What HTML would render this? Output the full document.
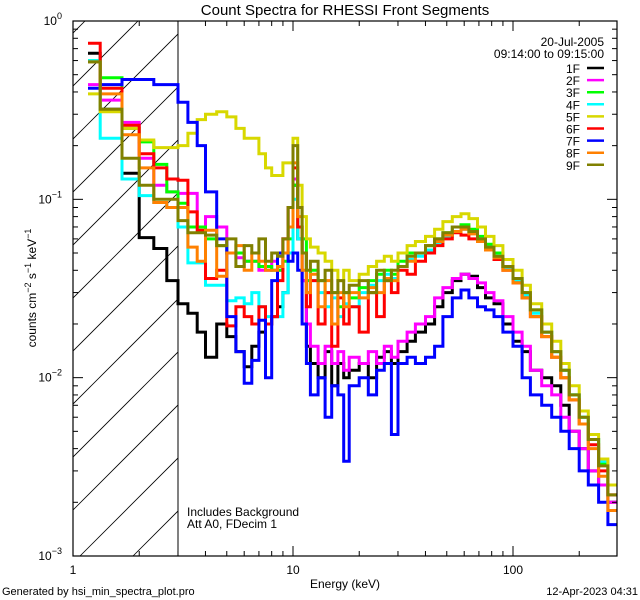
<!DOCTYPE html>
<html><head><meta charset="utf-8"><style>
html,body{margin:0;padding:0;background:#fff;}
svg{display:block;font-family:"Liberation Sans",sans-serif;}
</style></head><body>
<svg id="chart" width="640" height="600" viewBox="0 0 640 600">
<defs><clipPath id="plotclip"><rect x="73" y="21" width="544" height="535"/></clipPath></defs>
<rect x="0" y="0" width="640" height="600" fill="#fff"/>
<text x="345" y="15" font-size="15" text-anchor="middle">Count Spectra for RHESSI Front Segments</text>
<g id="hatch" clip-path="url(#plotclip)"></g>
<line x1="178" y1="21" x2="178" y2="556" stroke="#000" stroke-width="1"/>
<g id="series" clip-path="url(#plotclip)"></g>
<rect x="73" y="21" width="544" height="535" fill="none" stroke="#000" stroke-width="1.2"/>
<g id="axes"></g>
<text transform="translate(36,288) rotate(-90)" font-size="12" text-anchor="middle">counts cm<tspan dy="-5" font-size="9">−2</tspan><tspan dy="5"> s</tspan><tspan dy="-5" font-size="9">−1</tspan><tspan dy="5"> keV</tspan><tspan dy="-5" font-size="9">−1</tspan></text>
<text x="345" y="588" font-size="12" text-anchor="middle">Energy (keV)</text>
<text x="2" y="595" font-size="11">Generated by hsi_min_spectra_plot.pro</text>
<text x="638" y="595" font-size="11" text-anchor="end">12-Apr-2023 04:31</text>
<text x="187" y="516" font-size="12">Includes Background</text>
<text x="187" y="528" font-size="12">Att A0, FDecim 1</text>
<text x="604" y="46" font-size="12" text-anchor="end">20-Jul-2005</text>
<text x="604" y="58" font-size="12" text-anchor="end">09:14:00 to 09:15:00</text>
<g id="legend"></g>
</svg>
<script>
const energyEdges=[1.17,1.33,1.67,2.0,2.33,2.67,3.0,3.33,3.67,4.0,4.5,5.0,5.5,6.0,6.5,7.0,7.5,8.0,8.5,9.0,9.5,10.0,10.5,11.0,11.5,12,13,14,15,16,17,18,20,22,24,26,28,30,33,36,40,44,48,53,58,63,69,75,82,90,100,110,120,135,150,165,180,200,220,245,270,297];
const seriesNames=["1F","2F","3F","4F","5F","6F","7F","8F","9F"];
const s1F=[0.66,0.32,0.14,0.061,0.053,0.035,0.026,0.023,0.018,0.013,0.02,0.017,0.014,0.0115,0.015,0.018,0.02,0.022,0.025,0.03,0.05,0.12,0.06,0.035,0.015,0.012,0.01,0.014,0.009,0.012,0.01,0.011,0.012,0.01,0.013,0.014,0.012,0.014,0.016,0.018,0.02,0.025,0.03,0.035,0.038,0.037,0.032,0.028,0.026,0.02,0.016,0.014,0.011,0.01,0.009,0.007,0.005,0.004,0.003,0.0025,0.002];
const s2F=[0.44,0.36,0.27,0.17,0.12,0.11,0.108,0.108,0.07,0.08,0.07,0.05,0.047,0.045,0.045,0.04,0.04,0.045,0.04,0.06,0.09,0.13,0.07,0.035,0.02,0.015,0.012,0.015,0.012,0.014,0.011,0.013,0.012,0.014,0.012,0.015,0.013,0.016,0.018,0.02,0.022,0.028,0.032,0.036,0.038,0.036,0.034,0.03,0.027,0.022,0.018,0.015,0.011,0.009,0.008,0.006,0.005,0.004,0.003,0.0025,0.002];
const s3F=[0.6,0.48,0.25,0.21,0.157,0.11,0.095,0.07,0.07,0.06,0.055,0.05,0.05,0.045,0.045,0.042,0.042,0.04,0.04,0.045,0.06,0.12,0.07,0.06,0.035,0.04,0.035,0.03,0.03,0.025,0.03,0.028,0.032,0.035,0.038,0.04,0.038,0.045,0.05,0.05,0.055,0.06,0.065,0.07,0.072,0.068,0.062,0.056,0.05,0.042,0.036,0.03,0.024,0.018,0.014,0.011,0.008,0.006,0.0045,0.0033,0.0025];
const s4F=[0.6,0.22,0.13,0.105,0.096,0.09,0.07,0.044,0.044,0.033,0.033,0.027,0.028,0.026,0.03,0.025,0.022,0.022,0.022,0.03,0.05,0.1,0.06,0.05,0.03,0.035,0.03,0.025,0.028,0.022,0.026,0.025,0.03,0.033,0.035,0.038,0.036,0.042,0.046,0.048,0.052,0.057,0.062,0.066,0.068,0.065,0.06,0.054,0.048,0.041,0.035,0.029,0.023,0.018,0.014,0.011,0.008,0.006,0.0045,0.0034,0.0025];
const s5F=[0.39,0.31,0.25,0.215,0.195,0.195,0.2,0.235,0.28,0.3,0.31,0.29,0.25,0.22,0.22,0.18,0.15,0.136,0.136,0.16,0.16,0.22,0.12,0.08,0.06,0.054,0.05,0.045,0.04,0.035,0.04,0.035,0.038,0.042,0.045,0.048,0.045,0.05,0.055,0.058,0.062,0.068,0.075,0.08,0.083,0.078,0.07,0.062,0.055,0.046,0.04,0.033,0.026,0.02,0.016,0.012,0.009,0.0065,0.0048,0.0035,0.0025];
const s6F=[0.75,0.42,0.26,0.18,0.15,0.13,0.128,0.085,0.067,0.036,0.04,0.0195,0.025,0.022,0.02,0.025,0.02,0.022,0.035,0.06,0.09,0.15,0.07,0.05,0.025,0.035,0.02,0.03,0.015,0.028,0.02,0.025,0.018,0.03,0.022,0.035,0.03,0.04,0.038,0.045,0.05,0.055,0.06,0.065,0.063,0.06,0.058,0.052,0.046,0.04,0.034,0.028,0.022,0.017,0.013,0.01,0.0075,0.0055,0.0042,0.003,0.0022];
const s7F=[0.42,0.44,0.47,0.47,0.44,0.44,0.35,0.27,0.2,0.11,0.06,0.022,0.014,0.0093,0.0125,0.021,0.01,0.035,0.05,0.05,0.045,0.05,0.04,0.02,0.012,0.008,0.01,0.006,0.009,0.008,0.0034,0.009,0.01,0.008,0.011,0.012,0.0048,0.012,0.013,0.012,0.013,0.015,0.022,0.028,0.031,0.028,0.025,0.024,0.022,0.018,0.015,0.01,0.008,0.007,0.006,0.005,0.004,0.003,0.0025,0.002,0.0015];
const s8F=[0.59,0.39,0.23,0.15,0.096,0.09,0.09,0.054,0.045,0.067,0.037,0.05,0.055,0.04,0.05,0.045,0.04,0.04,0.042,0.05,0.07,0.16,0.08,0.04,0.03,0.038,0.025,0.035,0.02,0.03,0.025,0.03,0.028,0.032,0.03,0.036,0.035,0.042,0.045,0.05,0.055,0.058,0.063,0.066,0.068,0.064,0.058,0.052,0.047,0.04,0.034,0.028,0.022,0.017,0.013,0.01,0.0075,0.0055,0.004,0.0028,0.0018];
const s9F=[0.59,0.32,0.17,0.12,0.1,0.1,0.076,0.065,0.065,0.063,0.055,0.06,0.042,0.055,0.05,0.06,0.045,0.05,0.048,0.06,0.09,0.2,0.09,0.05,0.04,0.045,0.035,0.04,0.03,0.035,0.03,0.033,0.035,0.03,0.04,0.035,0.04,0.042,0.048,0.05,0.055,0.06,0.065,0.07,0.07,0.066,0.06,0.054,0.048,0.042,0.036,0.03,0.024,0.018,0.014,0.011,0.008,0.006,0.0045,0.0032,0.0022];
const xTickLabels=["1","10","100"];
const yTickLabels=["0","−1","−2","−3"];

const NS="http://www.w3.org/2000/svg";
const X0=73,X1=617,Y0=21,Y1=556;
const xDec=220, yDec=178.33;
function xScale(e){return X0+Math.log10(e)*xDec;}
function yScale(v){return Y0-Math.log10(v)*yDec;}
function mk(tag,attrs,parent){const el=document.createElementNS(NS,tag);for(const k in attrs)el.setAttribute(k,attrs[k]);parent.appendChild(el);return el;}

// hatch
const hatch=document.getElementById('hatch');
for(let c=159-53*12;c<900;c+=53){
  const ln=mk('line',{x1:c-Y1,y1:Y1,x2:c-Y0,y2:Y0,stroke:'#000','stroke-width':0.8},hatch);
  
  
}
hatch.setAttribute('clip-path','url(#hatchclip)');
const hc=mk('clipPath',{id:'hatchclip'},document.querySelector('defs'));
mk('rect',{x:X0,y:Y0,width:178-X0,height:Y1-Y0},hc);

// series
const colors=["#000000","#ff00ff","#00ff00","#00ffff","#d8d800","#ff0000","#0000ff","#ff8000","#808000"];
const allSeries=[s1F,s2F,s3F,s4F,s5F,s6F,s7F,s8F,s9F];
const sg=document.getElementById('series');
allSeries.forEach((vals,i)=>{
  let d='';
  vals.forEach((v,j)=>{
    const xa=xScale(energyEdges[j]),xb=xScale(energyEdges[j+1]),y=yScale(v);
    d+=(j===0?'M':'L')+xa.toFixed(1)+' '+y.toFixed(1)+'L'+xb.toFixed(1)+' '+y.toFixed(1);
  });
  const p=mk('path',{d:d,fill:'none',stroke:colors[i],'stroke-width':3,'stroke-linejoin':'miter'},sg);
  
  
});

// axes ticks
const ax=document.getElementById('axes');
for(let dec=0;dec<3;dec++){
  for(let m=1;m<10;m++){
    const e=Math.pow(10,dec)*m; if(e>297)break;
    const x=xScale(e), L=(m===1)?10:5;
    const t1=mk('line',{x1:x,y1:Y1,x2:x,y2:Y1-L,stroke:'#000','stroke-width':1},ax);
    
    
    const t2=mk('line',{x1:x,y1:Y0,x2:x,y2:Y0+L,stroke:'#000','stroke-width':1},ax);
    
    
  }
}
xTickLabels.forEach((lab,i)=>{
  const t=mk('text',{x:xScale(Math.pow(10,i)),y:574,'font-size':12,'text-anchor':'middle'},ax);
  t.textContent=lab;
  
  
});
for(let dec=-3;dec<0;dec++){
  for(let m=1;m<10;m++){
    const v=Math.pow(10,dec)*m, y=yScale(v), L=(m===1)?10:5;
    const t1=mk('line',{x1:X0,y1:y,x2:X0+L,y2:y,stroke:'#000','stroke-width':1},ax);
    
    
    const t2=mk('line',{x1:X1,y1:y,x2:X1-L,y2:y,stroke:'#000','stroke-width':1},ax);
    
    
  }
}
yTickLabels.forEach((lab,i)=>{
  const y=yScale(Math.pow(10,-i));
  const t=mk('text',{x:62,y:y+4,'font-size':12,'text-anchor':'end'},ax);
  t.innerHTML='10<tspan dy="-6" font-size="9">'+lab+'</tspan>';
  
  
});

// legend
const lg=document.getElementById('legend');
seriesNames.forEach((n,i)=>{
  const y=69+i*12.1;
  const t=mk('text',{x:580,y:y+4,'font-size':12,'text-anchor':'end'},lg);
  t.textContent=n;
  
  
  const l=mk('line',{x1:587,y1:y-1,x2:604,y2:y-1,stroke:colors[i],'stroke-width':2.5},lg);
  
  
});
</script>
</body></html>
